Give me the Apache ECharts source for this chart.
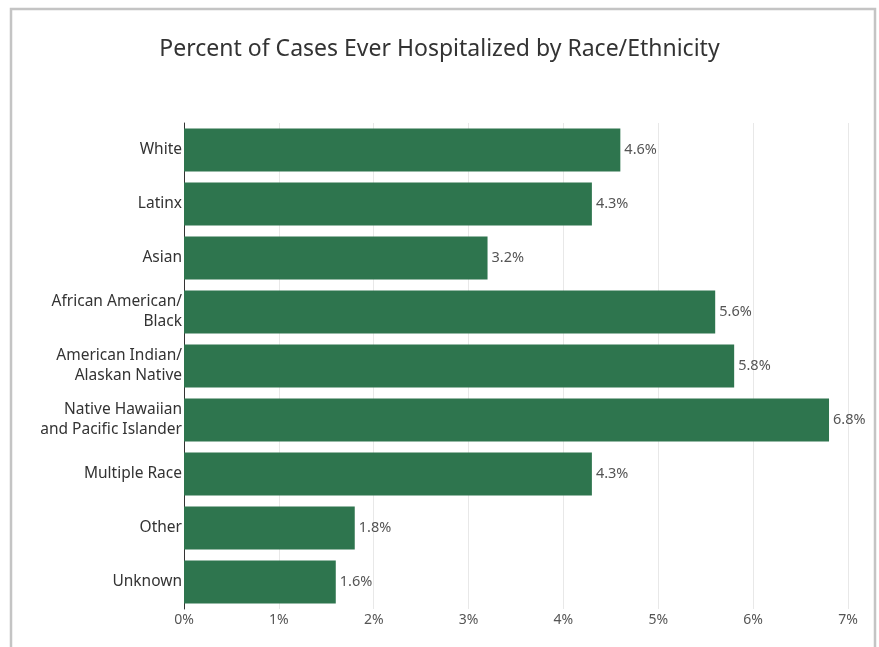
<!DOCTYPE html>
<html>
<head>
<meta charset="utf-8">
<script src="https://cdn.jsdelivr.net/npm/echarts@6/dist/echarts.min.js"></script>
<style>
html,body{margin:0;padding:0;background:#fff;}
#chart{width:879px;height:647px;}
</style>
</head>
<body>
<div id="chart"></div>
<script>
const categories = ["White", "Latinx", "Asian", "African American/\nBlack", "American Indian/\nAlaskan Native", "Native Hawaiian\nand Pacific Islander", "Multiple Race", "Other", "Unknown"];
const values = [4.6, 4.3, 3.2, 5.6, 5.8, 6.8, 4.3, 1.8, 1.6];
const xTicks = [0, 1, 2, 3, 4, 5, 6, 7];
const titleText = "Percent of Cases Ever Hospitalized by Race/Ethnicity";

const FONT = "Noto Sans";
const chart = echarts.init(document.getElementById('chart'), null, {renderer: 'canvas'});
chart.setOption({
  backgroundColor: '#fff',
  animation: false,
  title: {
    text: titleText,
    left: 'center',
    top: 33,
    textStyle: {fontFamily: FONT, fontSize: 23, fontWeight: 'normal', color: '#333'}
  },
  graphic: [{
    type: 'rect',
    shape: {x: 11, y: 9, width: 864, height: 660},
    style: {fill: 'none', stroke: '#c4c4c4', lineWidth: 2.5},
    silent: true
  }],
  grid: {left: 184, right: 31, top: 123, bottom: 38, containLabel: false},
  xAxis: {
    type: 'value',
    min: xTicks[0],
    max: xTicks[xTicks.length - 1],
    interval: 1,
    axisLine: {show: false},
    axisTick: {show: false},
    splitLine: {show: true, lineStyle: {color: '#e8e8e8', width: 1}},
    axisLabel: {formatter: v => v + '%', color: '#555', fontFamily: FONT, fontSize: 14, margin: 4}
  },
  yAxis: {
    type: 'category',
    data: categories,
    inverse: true,
    axisLine: {show: true, lineStyle: {color: '#333', width: 1}},
    axisTick: {show: false},
    axisLabel: {color: '#333', fontFamily: FONT, fontSize: 15.5, margin: 2, lineHeight: 20, align: 'right'}
  },
  series: [{
    type: 'bar',
    data: values,
    barWidth: '80%',
    itemStyle: {color: '#2e754e'},
    label: {
      show: true,
      position: 'right',
      distance: 4,
      formatter: p => p.value.toFixed(1) + '%',
      color: '#555',
      fontFamily: FONT,
      fontSize: 14.5
    }
  }]
});
</script>
</body>
</html>
